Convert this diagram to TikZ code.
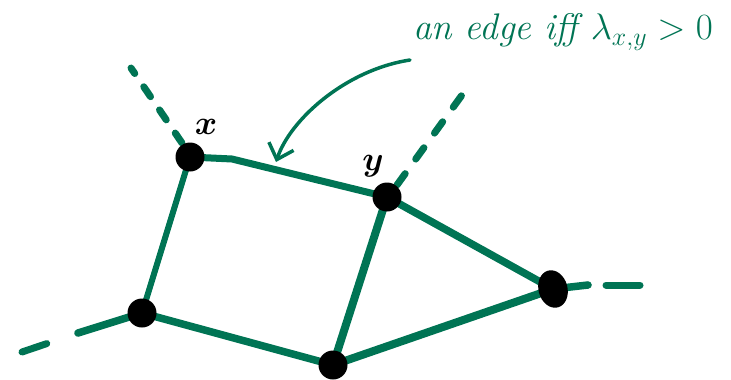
\RequirePackage{fix-cm}
\documentclass[tikz,border=0pt]{standalone}
\usepackage{amsmath}
\usepackage{amssymb}
\usetikzlibrary{arrows.meta,shapes.geometric,backgrounds}
\definecolor{edgegreen}{RGB}{0,116,84}
\tikzset{
  vtx/.style={circle, fill=black, inner sep=0pt, minimum size=29pt},
  edg/.style={edgegreen, line width=7.5pt, line cap=round},
  dsh/.style={edgegreen, line width=7pt, line cap=round, dash pattern=on 12pt off 16pt}
}
\begin{document}
\begin{tikzpicture}[x=1pt,y=-1pt]
\useasboundingbox (0,0) rectangle (731,380);
% vertices
\node [vtx] (x) at (190,157) {};
\node [vtx] (y) at (387,197) {};
\node [vtx] (a) at (142,313) {};
\node [vtx] (b) at (333,365) {};
\node [vtx, ellipse, minimum width=29pt, minimum height=38pt, rotate=15] (c) at (553,289) {};
\coordinate (bend) at (232,159);
\begin{pgfonlayer}{background}
% edges
\draw [edg, line width=6pt] (a.center) -- (x.center);
\draw [edg, line width=7pt] (x.center) -- (bend) -- (y.center);
\draw [edg] (a.center) -- (b.center);
\draw [edg, line width=8pt] (y.center) -- (b.center);
\draw [edg] (y.center) -- (c.center);
\draw [edg, line width=8pt] (b.center) -- (c.center);
% loose ends
\coordinate (xend) at (131,68);
\coordinate (yend) at (462,95);
\coordinate (aend) at (22,352);
\coordinate (cend) at (640,285);
\draw [dsh] (x.center) ++(-8,-14) -- (xend);
\draw [dsh, dash pattern=on 14pt off 18pt] (y.center) ++(10,-12) -- (yend);
\draw [edg] (a.center) -- (78,333);
\draw [dsh, dash pattern=on 0pt off 33pt on 30pt] (78,333) -- (aend);
\draw [edg] (c.center) -- (588,285);
\draw [dsh, dash pattern=on 0pt off 18pt on 34pt off 20pt] (588,285) -- (cend);
\end{pgfonlayer}
% labels
\node [font=\fontsize{34}{38}\selectfont] (xl) at (206,127) {$\boldsymbol{x}$};
\node [font=\fontsize{34}{38}\selectfont] (yl) at (373,166) {$\boldsymbol{y}$};
\node [edgegreen, font=\fontsize{37}{42}\selectfont\itshape] (note) at (563,32)
  {an edge iff $\lambda_{x,y} > 0$};
% pointer
\coordinate (from) at (410,60);
\coordinate (tip) at (276,162);
\draw [edgegreen, line width=3.5pt, line cap=round,
  -{Straight Barb[length=14pt,width=26pt]}]
  (from) .. controls (345,70) and (290,120) .. (tip);
\end{tikzpicture}
\end{document}
